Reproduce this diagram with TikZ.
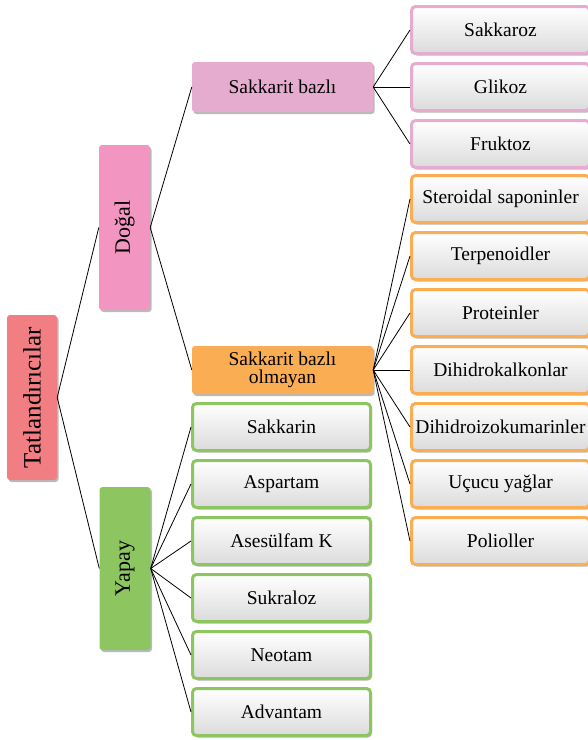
\documentclass[tikz,border=0pt]{standalone}
\usepackage{fontspec}
\setmainfont{Liberation Serif}
\usetikzlibrary{shadows}
\definecolor{rootc}{RGB}{240,126,130}
\definecolor{dogalc}{RGB}{242,149,193}
\definecolor{sbc}{RGB}{229,172,207}
\definecolor{sboc}{RGB}{250,173,82}
\definecolor{yapayc}{RGB}{141,198,96}
\begin{document}
\begin{tikzpicture}[x=1pt,y=-1pt,
  base/.style={rectangle, rounded corners=3pt, align=center, inner sep=1pt,
    drop shadow={shadow xshift=1.5pt, shadow yshift=-2pt, opacity=0.45, fill=black!60}},
  vbox/.style={base, rotate=90, minimum width=165pt, minimum height=51pt, font=\fontsize{22}{24}\selectfont},
  midbox/.style={base, minimum width=181pt, minimum height=50pt, font=\fontsize{19.5}{18.5}\selectfont},
  leaf/.style={base, line width=3pt, top color=white, bottom color=black!14,
    minimum width=178pt, minimum height=47pt, rounded corners=4pt, font=\fontsize{19.5}{22}\selectfont},
  pinkleaf/.style={leaf, draw=sbc},
  orangeleaf/.style={leaf, draw=sboc},
  greenleaf/.style={leaf, draw=yapayc},
  link/.style={draw=black, line width=0.8pt}
]
\useasboundingbox (0,0) rectangle (588,740);
\clip (0,0) rectangle (588,740);

\node[vbox, fill=rootc, minimum height=50pt, font=\fontsize{25}{27}\selectfont] (root) at (32,397.5) {Tatlandırıcılar};
\node[vbox, fill=dogalc] (dogal) at (124.5,227.5) {Doğal};
\node[vbox, fill=yapayc, minimum width=163pt] (yapay) at (125,568.5) {Yapay};

\node[midbox, fill=sbc] (sb) at (282.5,87) {Sakkarit bazlı};
\node[midbox, fill=sboc, minimum height=48pt] (sbo) at (282.5,370) {Sakkarit bazlı\\olmayan};

\draw[link] (root.south) -- (dogal.north);
\draw[link] (root.south) -- (yapay.north);
\draw[link] (dogal.south) -- (sb.west);
\draw[link] (dogal.south) -- (sbo.west);

\foreach \t/\n/\y in {Sakkaroz/p1/30, Glikoz/p2/87, Fruktoz/p3/144}{
  \node[pinkleaf] (\n) at (500.5,\y) {\t};
  \draw[link] (sb.east) -- (\n.west);
}
\foreach \t/\n/\y in {Steroidal saponinler/o1/199, Terpenoidler/o2/256, Proteinler/o3/313,
  Dihidrokalkonlar/o4/370, Dihidroizokumarinler/o5/427, Uçucu yağlar/o6/484, Polioller/o7/541}{
  \node[orangeleaf] (\n) at (500.5,\y) {\t};
  \draw[link] (sbo.east) -- (\n.west);
}
\foreach \t/\n/\y in {Sakkarin/g1/427, Aspartam/g2/484, Asesülfam K/g3/541,
  Sukraloz/g4/598, Neotam/g5/655, Advantam/g6/712}{
  \node[greenleaf] (\n) at (281.5,\y) {\t};
  \draw[link] (yapay.south) -- (\n.west);
}
\end{tikzpicture}
\end{document}
